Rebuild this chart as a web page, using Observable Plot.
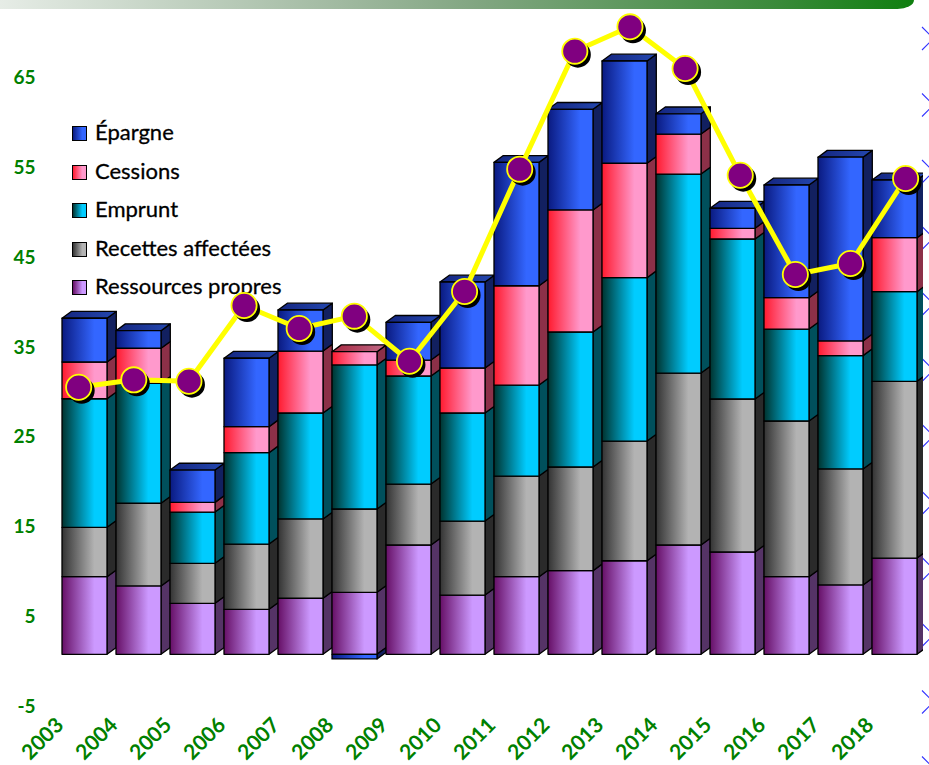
<!DOCTYPE html>
<html lang="fr">
<head>
<meta charset="utf-8">
<script src="https://cdn.jsdelivr.net/npm/d3@7"></script>
<script src="https://cdn.jsdelivr.net/npm/@observablehq/plot@0.6"></script>
<style>
  html, body { margin: 0; padding: 0; background: #fff; overflow: hidden; }
  #page { position: relative; width: 929px; height: 765px; overflow: hidden; }
  #band { position: absolute; left: 0; top: 0; width: 914px; height: 9px;
    border-bottom-right-radius: 22px 12px;
    background: linear-gradient(90deg, #e6ece6 0%, #a3bba3 36%, #82a682 52%, #3a8a3a 85%, #0f7f0f 100%); }
  #marks { position: absolute; left: 0; top: 0; }
  #legend { position: absolute; left: 72px; top: 0; font: 400 22px Lato, sans-serif; color: #000; -webkit-text-stroke: 0.3px #000; }
  .row { position: absolute; left: 0; display: flex; align-items: center; height: 20px; white-space: nowrap; }
  .row span { position: relative; top: -2px; }
  .sw { width: 13px; height: 13px; border: 1.2px solid #000; margin-right: 8px; flex: none; }
  #chart { position: absolute; left: 0; top: 0; clip-path: inset(0 6px 0 0); }
</style>
</head>
<body>
<div id="page">
  <div id="band"></div>
  <svg id="marks" width="929" height="765"></svg>
  <div id="legend"></div>
  <div id="chart"></div>
</div>
<script>
const years = [2003,2004,2005,2006,2007,2008,2009,2010,2011,2012,2013,2014,2015,2016,2017,2018];
const seriesNames = ["Ressources propres","Recettes affectées","Emprunt","Cessions","Épargne"];
const ressources = [8.64,7.61,5.68,5.01,6.24,6.90,12.17,6.60,8.64,9.31,10.42,12.17,11.39,8.64,7.72,10.72];
const recettes   = [5.50,9.21,4.45,7.27,8.83,9.28,6.79,8.24,11.21,11.55,13.33,19.15,17.04,17.34,12.92,19.68];
const emprunt    = [14.32,13.36,5.71,10.17,11.80,16.04,12.03,12.03,10.13,15.03,18.19,22.16,17.82,10.24,12.62,9.98];
const cessions   = [4.09,3.90,1.08,2.90,6.90,1.48,1.78,5.01,11.06,13.59,12.74,4.45,1.19,3.49,1.64,6.01];
const epargne    = [4.87,1.96,3.60,7.62,4.57,-0.52,4.20,9.58,13.74,11.21,11.39,2.26,2.23,12.55,20.46,6.43];
const total      = [29.80,30.62,30.47,38.90,36.34,37.71,32.69,40.46,54.08,67.22,69.93,65.29,53.41,42.35,43.57,53.04];
const yTicks = [-5,5,15,25,35,45,55,65];

const seriesValues = [ressources, recettes, emprunt, cessions, epargne];
const frontStops = [["#660f66","#cc99ff"],["#333333","#b3b3b3"],["#00332e","#00ccff"],["#ff1a2e","#ff99cc"],["#0a1a80","#3366ff"]];
const sideFill   = ["#553366","#2a2a2a","#00505c","#8c3048","#122060"];
const topStops   = [["#5a2a70","#8a60b0"],["#444444","#777777"],["#004a50","#0090b0"],["#a82840","#c06a88"],["#14257f","#2448b0"]];
const gradId = i => `front${i}`;
const topId = i => `top${i}`;

// Manual stack: positives pile upward, negatives downward.
const rows = [];
years.forEach((year, j) => {
  let pos = 0, neg = 0;
  seriesValues.forEach((vals, s) => {
    const v = vals[j];
    const base = v >= 0 ? pos : neg;
    if (v >= 0) pos += v; else neg += v;
    rows.push({year, series: seriesNames[s], s, y1: base, y2: base + v});
  });
});
const points = years.map((year, i) => ({pos: 2002.883 + 1.0209 * i, value: total[i]}));
const halfBar = 45 / 54 / 2, depthX = 9.3, depthY = 6.8;

function defs() {
  const d = d3.create("svg:defs");
  const add = (id, [a, b], mid) => {
    const g = d.append("linearGradient").attr("id", id).attr("x1", 0).attr("x2", 1).attr("y1", 0).attr("y2", 0);
    g.append("stop").attr("offset", 0).attr("stop-color", a);
    g.append("stop").attr("offset", mid).attr("stop-color", b);
    g.append("stop").attr("offset", 1).attr("stop-color", b);
  };
  frontStops.forEach((c, i) => add(gradId(i), c, 0.72));
  topStops.forEach((c, i) => add(topId(i), c, 1));
  return d.node();
}

function extrude(index, scales, values, dimensions, context, next) {
  const {x1: X1, x2: X2, y1: Y1, y2: Y2} = values;
  const topY = new Map();
  for (const i of index) {
    const t = Math.min(Y1[i], Y2[i]), k = rows[i].year;
    if (!topY.has(k) || t < topY.get(k)) topY.set(k, t);
  }
  const g = d3.create("svg:g").attr("stroke", "#000").attr("stroke-width", 1.3).attr("stroke-linejoin", "round");
  for (const i of index) {
    const t = Math.min(Y1[i], Y2[i]), b = Math.max(Y1[i], Y2[i]), l = X1[i], r = X2[i];
    g.append("polygon").attr("fill", sideFill[rows[i].s])
      .attr("points", [[r,t],[r+depthX,t-depthY],[r+depthX,b-depthY],[r,b]].join(" "));
    if (t === topY.get(rows[i].year))
      g.append("polygon").attr("fill", `url(#${topId(rows[i].s)})`)
        .attr("points", [[l,t],[l+depthX,t-depthY],[r+depthX,t-depthY],[r,t]].join(" "));
  }
  g.node().appendChild(next(index, scales, values, dimensions, context));
  return g.node();
}

const chart = Plot.plot({
  width: 929, height: 765,
  marginLeft: 57.5, marginRight: 7.5, marginTop: 25.7, marginBottom: 65.8,
  style: {background: "transparent", fontFamily: "Lato, sans-serif", fontWeight: 700, fontSize: "19px", overflow: "hidden"},
  x: {domain: [2002.5, 2018.5]},
  y: {domain: [-5, 70]},
  color: {domain: seriesNames, range: seriesNames.map((_, i) => `url(#${gradId(i)})`)},
  marks: [
    defs,
    Plot.rect(rows, {
      x1: d => d.year - halfBar, x2: d => d.year + halfBar,
      y1: "y1", y2: "y2", fill: "series",
      stroke: "#000", strokeWidth: 1.3,
      render: extrude
    }),
    Plot.line(points, {x: "pos", y: "value", stroke: "#ffff00", strokeWidth: 5, curve: "linear"}),
    Plot.dot(points, {x: "pos", y: "value", r: 13, fill: "#000", stroke: "none", dx: 3, dy: 3.5}),
    Plot.dot(points, {x: "pos", y: "value", r: 12.6, fill: "#800080", stroke: "#ffff00", strokeWidth: 1.8}),
    Plot.axisY({ticks: yTicks, tickFormat: d => String(d), tickSize: 0, tickPadding: 22.5, dy: 7, color: "#008000", label: null, fontSize: 19}),
    Plot.axisX({ticks: years, tickFormat: d => String(d), tickSize: 0, tickRotate: -45, tickPadding: 14, dx: -25, dy: 8, color: "#008000", label: null, fontSize: 21})
  ]
});
document.getElementById("chart").appendChild(chart);

// Legend, top first, as in the reference
const legend = d3.select("#legend");
[4,3,2,1,0].forEach((s, k) => {
  const row = legend.append("div").attr("class", "row").style("top", `${123.5 + k * 38.5}px`);
  row.append("div").attr("class", "sw")
    .style("background", `linear-gradient(90deg, ${frontStops[s][0]}, ${frontStops[s][1]} 72%)`);
  row.append("span").text(seriesNames[s]);
});

// Right-edge decoration: chevrons running off the page
const chevrons = [38.5,105,171.5,238,304,370,436,503,569,635,702,768];
d3.select("#marks").selectAll("path").data(chevrons).join("path")
  .attr("d", c => `M922,${c-11.5}L933.5,${c}L922,${c+11.5}`)
  .attr("fill", "none").attr("stroke", "#3333ff").attr("stroke-width", 1.1);
</script>
</body>
</html>
